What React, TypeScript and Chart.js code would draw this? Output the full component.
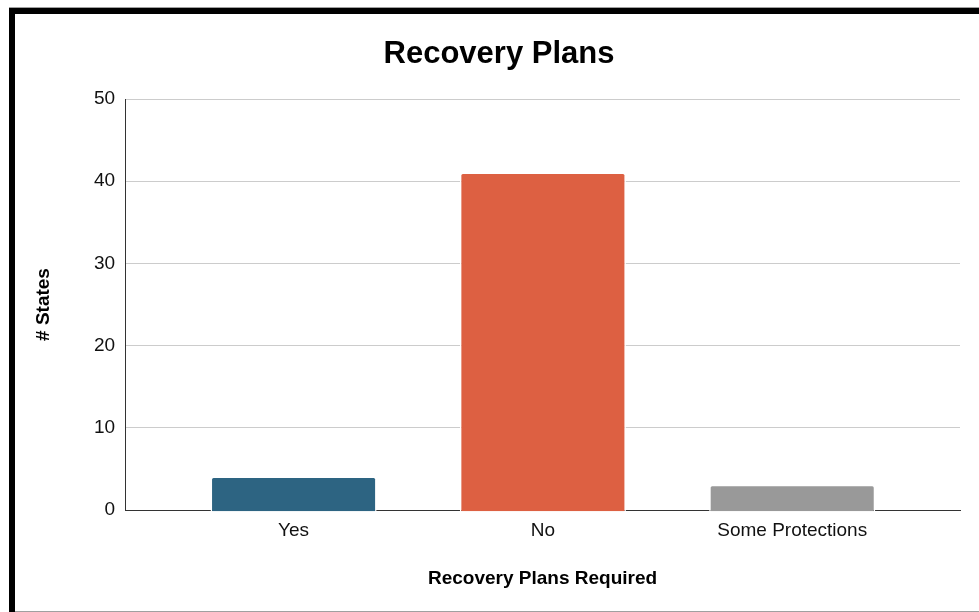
import React, { useEffect, useRef } from "react";
import { Chart, registerables } from "chart.js";

Chart.register(...registerables);

const chartTitle = "Recovery Plans";
const xAxisTitle = "Recovery Plans Required";
const yAxisTitle = "# States";
const categories = ["Yes", "No", "Some Protections"];
const stateCounts = [4, 41, 3];
const barColors = ["#2d6482", "#dd6042", "#999999"];
const yMin = 0;
const yMax = 50;
const yStep = 10;

const FONT = "'Liberation Sans', Arial, Helvetica, sans-serif";

export default function App() {
  const canvasRef = useRef<HTMLCanvasElement | null>(null);

  useEffect(() => {
    const canvas = canvasRef.current;
    if (!canvas) return;
    const points = categories.map((_, i) => ({ x: i, y: stateCounts[i] }));
    const chart = new Chart(canvas, {
      type: "bar",
      data: {
        datasets: [
          {
            label: yAxisTitle,
            data: points as any,
            backgroundColor: barColors,
            borderColor: "#ffffff",
            borderWidth: { left: 1.5, right: 1.5, top: 1, bottom: 0 } as any,
            borderRadius: { topLeft: 3, topRight: 3, bottomLeft: 0, bottomRight: 0 },
            borderSkipped: "bottom",
            barPercentage: 0.666,
            categoryPercentage: 1,
            base: -0.15,
            clip: false as any,
          },
        ],
      },
      options: {
        animation: false,
        responsive: true,
        maintainAspectRatio: false,
        devicePixelRatio: 1,
        layout: { padding: { left: 23, right: 19, top: 0, bottom: 0 } },
        plugins: {
          legend: { display: false },
          tooltip: { enabled: false },
          title: {
            display: true,
            text: chartTitle,
            color: "#000000",
            font: { family: FONT, size: 31, weight: "bold" },
            padding: { top: 21.4, bottom: 26.4 },
          },
        },
        scales: {
          x: {
            type: "linear",
            min: -0.676,
            max: 2.673,
            offset: false,
            afterBuildTicks: (scale: any) => {
              scale.ticks = categories.map((_, i) => ({ value: i }));
            },
            ticks: {
              autoSkip: false,
              maxRotation: 0,
              minRotation: 0,
              padding: 9,
              color: "#111111",
              font: { family: FONT, size: 19 },
              callback: (value: any) => categories[Number(value)] ?? "",
            },
            grid: { display: false, drawTicks: false },
            border: { display: true, color: "#333333", width: 1 },
            title: {
              display: true,
              text: xAxisTitle,
              color: "#000000",
              font: { family: FONT, size: 19, weight: "bold" },
              padding: { top: 16.8, bottom: 20.6 },
            },
          },
          y: {
            type: "linear",
            min: yMin,
            max: yMax,
            ticks: {
              stepSize: yStep,
              padding: 10,
              color: "#111111",
              font: { family: FONT, size: 19 },
            },
            grid: { color: "#cccccc", lineWidth: 1, drawTicks: false },
            border: { display: true, color: "#333333", width: 1 },
            title: {
              display: true,
              text: yAxisTitle,
              color: "#000000",
              font: { family: FONT, size: 19, weight: "bold" },
              padding: { top: -5.4, bottom: 28.5 },
            },
          },
        },
      },
    });
    return () => chart.destroy();
  }, []);

  return (
    <div
      style={{
        position: "fixed",
        left: 0,
        top: 0,
        width: 979,
        height: 612,
        background: "#ffffff",
        overflow: "hidden",
      }}
    >
      <div style={{ position: "absolute", left: 15, top: 14, width: 964, height: 597 }}>
        <canvas ref={canvasRef} />
      </div>
      <div style={{ position: "absolute", left: 9, top: 7, width: 970, height: 1, background: "#a0a0a0" }} />
      <div style={{ position: "absolute", left: 9, top: 8, width: 970, height: 6, background: "#000000" }} />
      <div style={{ position: "absolute", left: 9, top: 8, width: 6, height: 604, background: "#000000" }} />
      <div style={{ position: "absolute", left: 15, top: 611, width: 964, height: 1, background: "#a0a0a0" }} />
    </div>
  );
}
